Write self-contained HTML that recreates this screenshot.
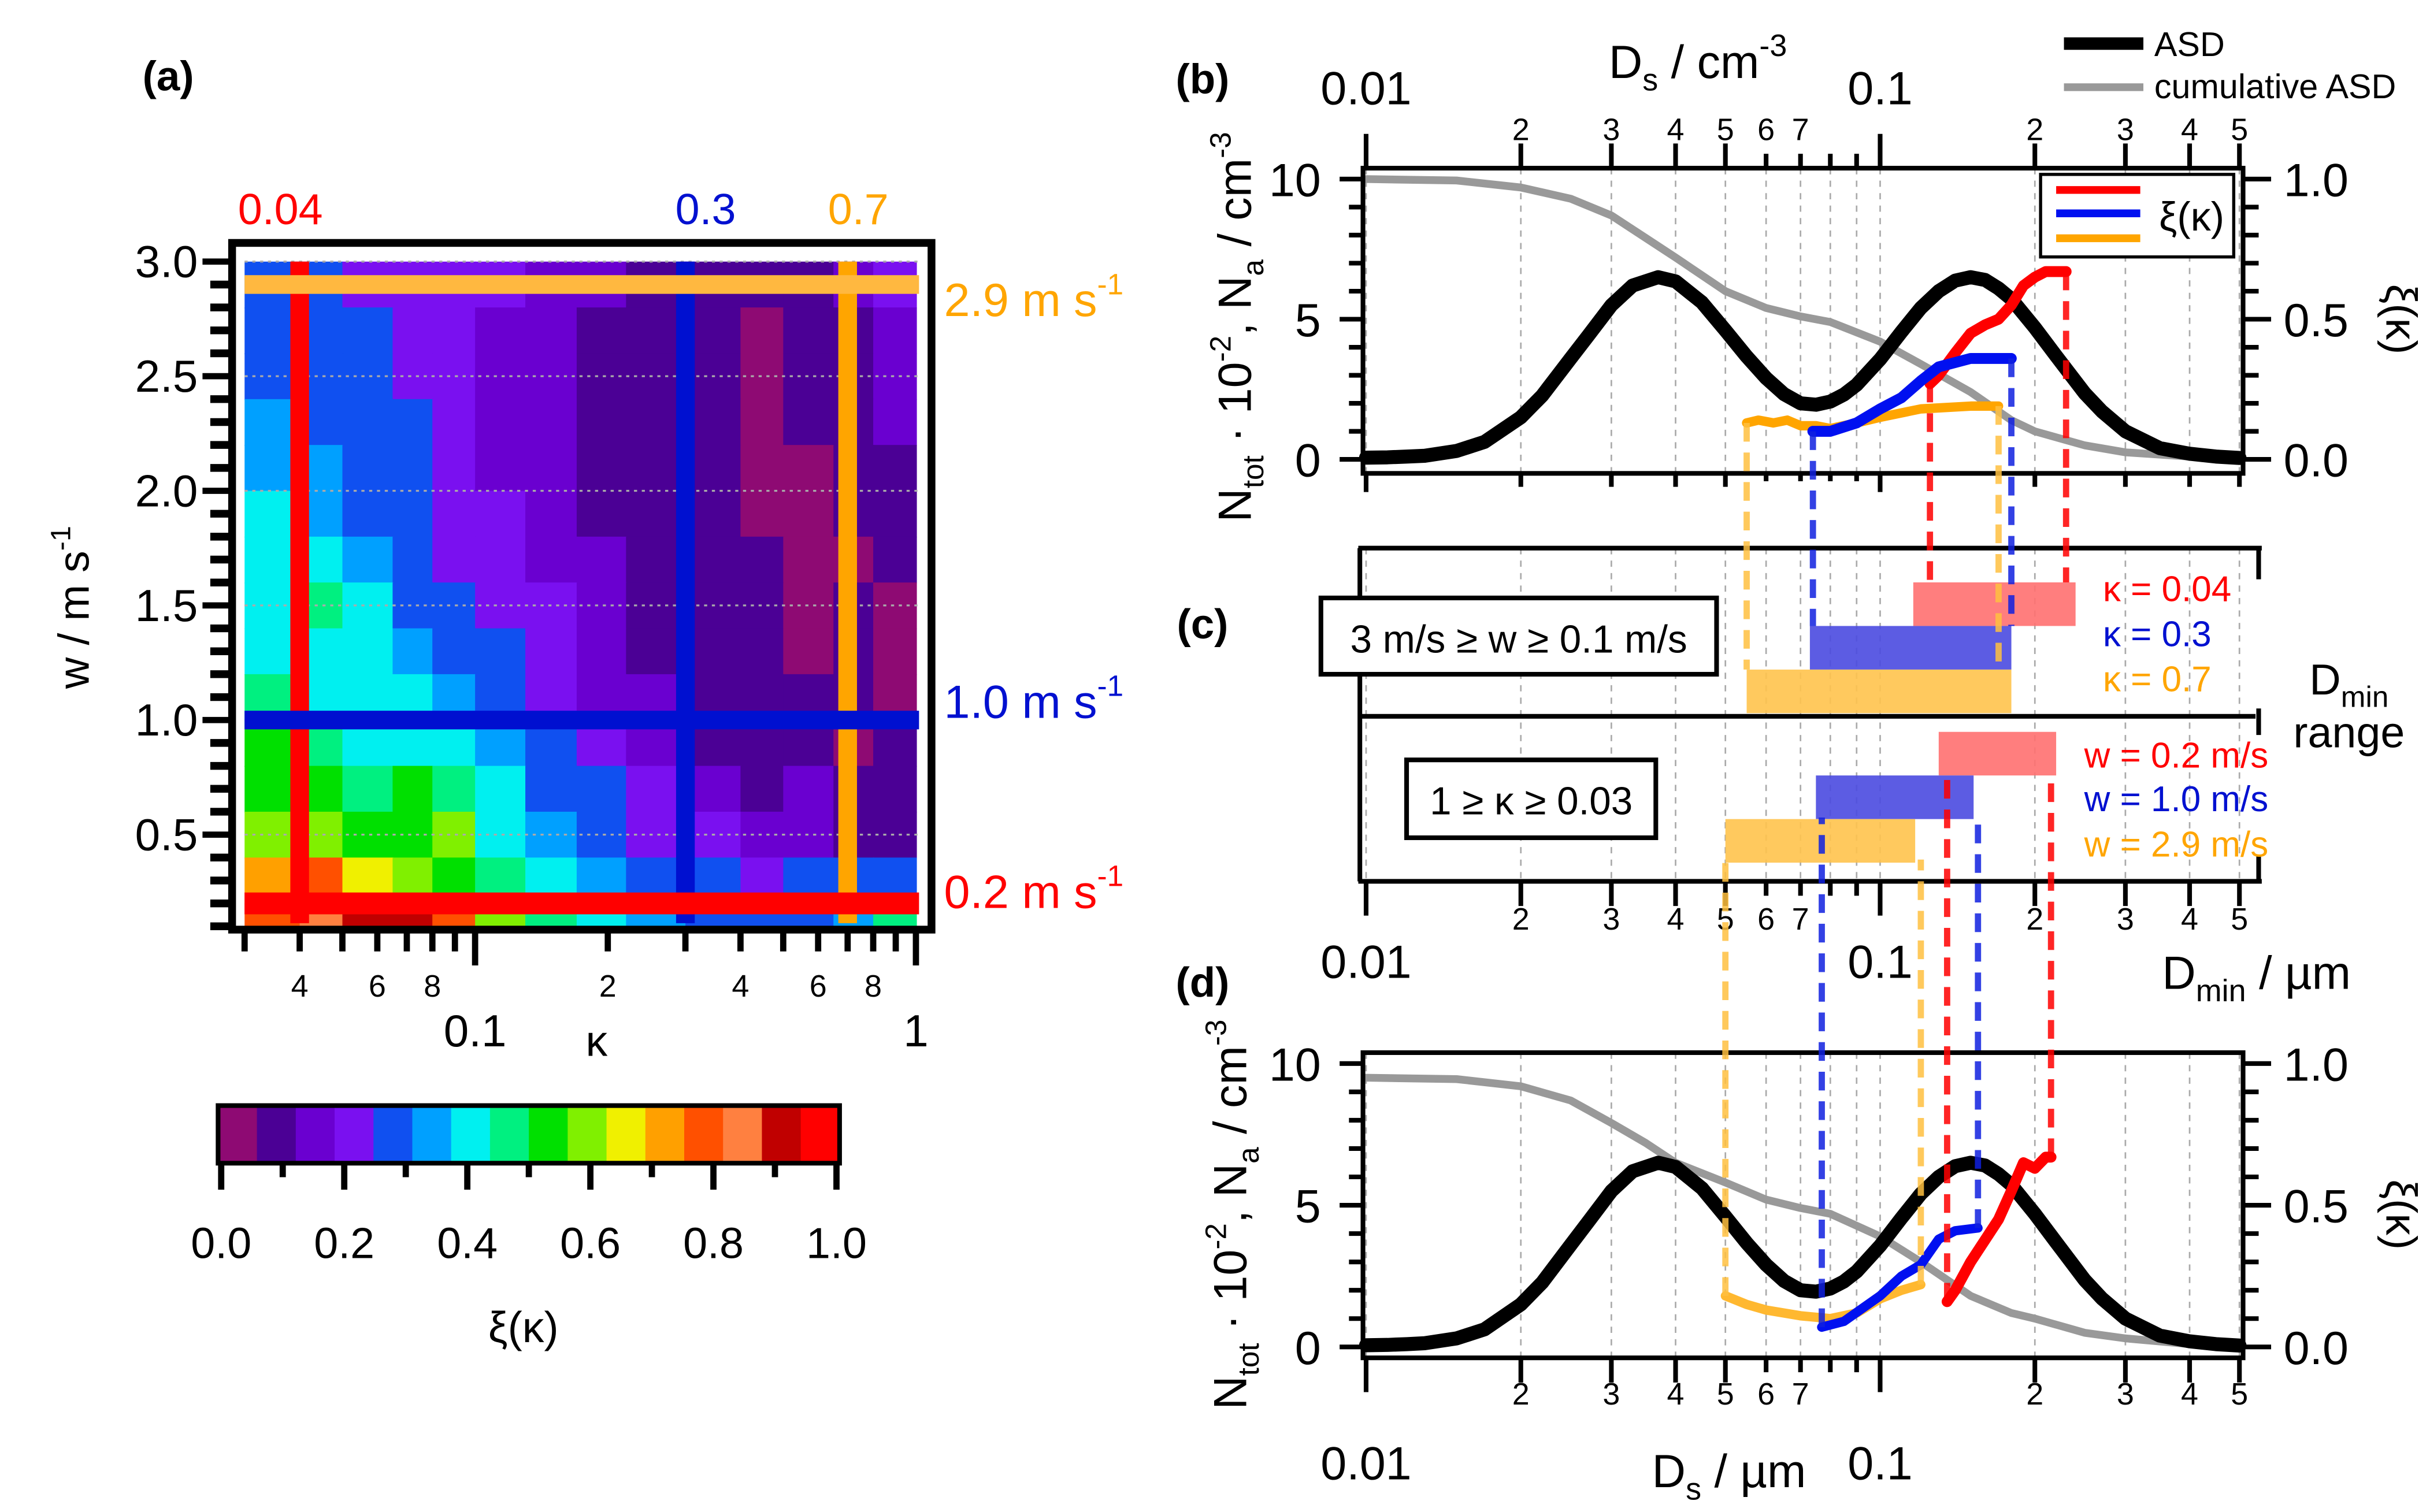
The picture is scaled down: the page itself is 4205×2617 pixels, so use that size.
<!DOCTYPE html>
<html><head><meta charset="utf-8"><style>
html,body{margin:0;padding:0;background:#fff;}
svg{display:block;font-family:"Liberation Sans",sans-serif;}
</style></head><body>
<svg id="fig" width="4205" height="2617" viewBox="0 0 1560 971" preserveAspectRatio="none" xmlns="http://www.w3.org/2000/svg">
<rect x="0" y="0" width="1560" height="971" fill="#fff"/>
</svg>
<script>
// ---- Panel (a) data ----
const kappaEdges=[0.03,0.04,0.05,0.065,0.08,0.1,0.13,0.17,0.22,0.3,0.4,0.5,0.65,0.8,1.0];
const wEdges=[3.0,2.8,2.6,2.4,2.2,2.0,1.8,1.6,1.4,1.2,1.0,0.8,0.6,0.4,0.2,0.1];
const xiGrid=[
[.3,.3,.22,.22,.2,.2,.15,.15,.12,.1,.1,.08,.15,.2],
[.3,.3,.25,.22,.2,.18,.15,.12,.1,.1,.05,.08,.12,.15],
[.3,.3,.28,.22,.2,.18,.15,.12,.1,.1,.02,.08,.1,.15],
[.32,.3,.28,.25,.2,.18,.15,.12,.1,.08,.02,.1,.1,.15],
[.35,.32,.3,.25,.22,.18,.15,.12,.1,.08,.05,.02,.08,.12],
[.38,.35,.3,.25,.22,.2,.18,.12,.1,.08,.05,.02,.08,.1],
[.4,.38,.32,.28,.22,.2,.18,.15,.1,.08,.08,.05,.02,.08],
[.42,.45,.38,.3,.25,.22,.2,.15,.12,.08,.1,.02,.08,.05],
[.42,.42,.4,.35,.3,.25,.2,.15,.12,.1,.08,.05,.08,.02],
[.45,.42,.42,.38,.32,.28,.2,.18,.15,.1,.1,.1,.08,.05],
[.5,.45,.42,.42,.4,.32,.25,.2,.15,.12,.12,.08,.05,.1],
[.55,.5,.45,.5,.45,.38,.3,.25,.2,.15,.12,.15,.1,.1],
[.6,.58,.5,.5,.6,.42,.35,.3,.22,.2,.18,.15,.12,.1],
[.7,.75,.65,.6,.5,.45,.4,.35,.3,.25,.22,.25,.3,.3],
[.8,.85,.9,.9,.75,.6,.45,.4,.35,.3,.25,.3,.35,.45]];
const cmap=["#8e0a73","#4b0095","#6a00d0","#7a10f0","#1050f0","#00a0ff","#00f0f0","#00f080","#00e000","#80f000","#f0f000","#ffa000","#ff5000","#ff8040","#c00000","#ff0000"];
const wTicks=[0.5,1.0,1.5,2.0,2.5,3.0];
const kTicksMajor=[0.1,1];
const kTicksMinor=[0.03,0.04,0.05,0.06,0.07,0.08,0.09,0.2,0.3,0.4,0.5,0.6,0.7,0.8,0.9];
const kMinorLabels=[0.04,0.06,0.08,0.2,0.4,0.6,0.8];
const selKappa=[0.04,0.3,0.7];
const selW=[2.9,1.0,0.2];
// ---- Panels (b)-(d) data ----
const asdD=[0.01,0.011,0.012,0.013,0.015,0.017,0.02,0.022,0.025,0.027,0.03,0.033,0.037,0.04,0.045,0.05,0.055,0.06,0.065,0.07,0.075,0.08,0.085,0.09,0.1,0.11,0.12,0.13,0.14,0.15,0.16,0.17,0.18,0.2,0.22,0.25,0.27,0.3,0.35,0.4,0.45,0.5];
const asdN=[0.06,0.07,0.1,0.13,0.3,0.62,1.5,2.27,3.6,4.4,5.5,6.2,6.5,6.35,5.6,4.6,3.67,2.9,2.33,2.0,1.95,2.06,2.31,2.66,3.57,4.55,5.4,6.0,6.38,6.5,6.4,6.1,5.72,4.7,3.69,2.36,1.71,1.0,0.4,0.2,0.1,0.05];
const cumD=[0.01,0.015,0.02,0.025,0.03,0.035,0.04,0.05,0.06,0.07,0.08,0.1,0.12,0.15,0.18,0.2,0.25,0.3,0.4,0.5];
const cumB=[1.0,.995,.97,.93,.87,.79,.72,.6,.54,.51,.49,.42,.34,.24,.14,.1,.05,.025,.01,.005];
const cumDd=[0.01,0.015,0.02,0.025,0.03,0.035,0.04,0.05,0.06,0.07,0.08,0.1,0.12,0.15,0.18,0.2,0.25,0.3,0.4,0.5];
const cumDv=[.95,.945,.92,.87,.79,.72,.65,.58,.52,.49,.47,.39,.30,.18,.12,.1,.05,.03,.01,0];
const xiBRedD=[0.125,0.13,0.14,0.15,0.16,0.17,0.18,0.19,0.2,0.21,0.23];
const xiBRed=[.27,.3,.38,.45,.48,.5,.55,.62,.65,.67,.67];
const xiBBlueD=[0.074,0.08,0.09,0.1,0.11,0.12,0.13,0.15,0.17,0.18];
const xiBBlue=[.1,.1,.13,.18,.22,.28,.33,.36,.36,.36];
const xiBOrgD=[0.055,0.058,0.062,0.066,0.07,0.075,0.08,0.09,0.1,0.12,0.15,0.17];
const xiBOrg=[.13,.14,.13,.14,.12,.12,.11,.13,.15,.18,.19,.19];
const xiDOrgD=[0.05,0.055,0.06,0.07,0.08,0.09,0.1,0.11,0.12];
const xiDOrg=[.18,.15,.13,.11,.1,.12,.17,.2,.22];
const xiDBlueD=[0.077,0.085,0.1,0.11,0.12,0.13,0.14,0.155];
const xiDBlue=[.07,.09,.18,.25,.29,.38,.41,.42];
const xiDRedD=[0.135,0.14,0.15,0.17,0.18,0.19,0.2,0.21,0.215];
const xiDRed=[.16,.2,.3,.45,.55,.65,.63,.67,.67];
const barsUpperLo=[0.116,0.073,0.055];
const barsUpperHi=[0.24,0.18,0.18];
const barsLowerLo=[0.13,0.075,0.05];
const barsLowerHi=[0.22,0.152,0.117];
const yTicksLeft=[0,5,10];
const yTicksRight=[0.0,0.5,1.0];
const dLabels=[2,3,4,5,6,7,20,30,40,50];

const NS="http://www.w3.org/2000/svg";
const svg=document.getElementById('fig');
function el(tag,attrs,parent){const e=document.createElementNS(NS,tag);for(const k in attrs)e.setAttribute(k,attrs[k]);(parent||svg).appendChild(e);return e;}
function txt(s,x,y,size,fill,anchor,extra){const t=el('text',Object.assign({x:x,y:y,'font-size':size,fill:fill||'#000','text-anchor':anchor||'middle'},extra||{}));t.textContent=s;return t;}
const RED="#ff0000",BLUE="#0010d0",ORG="#ffa500";

const kx=k=>305+283*Math.log10(k/0.1);
const wy=w=>168+(3-w)*147.2;
const dx=D=>877+330*Math.log10(D/0.01);
const by=v=>295-18*v;
const dy=v=>865-18.2*v;

// ---- Panel (a) ----
const ga=el('g',{});


for(let r=0;r<xiGrid.length;r++){for(let c=0;c<xiGrid[r].length;c++){
  const v=xiGrid[r][c];const bin=Math.min(15,Math.floor(v*16));
  const x0=kx(kappaEdges[c]),x1=kx(kappaEdges[c+1]),y0=wy(wEdges[r]),y1=wy(wEdges[r+1]);
  const cell=el('rect',{x:x0,y:y0,width:x1-x0+0.6,height:y1-y0+0.6,fill:cmap[bin]},ga);
  
  
}}
for(const w of wTicks){const l=el('line',{x1:157,x2:592,y1:wy(w),y2:wy(w),stroke:'#aaa','stroke-dasharray':'2,3','stroke-width':1.2},ga);}
const selColK=[RED,BLUE,ORG];
selKappa.forEach((k,i)=>{const l=el('line',{x1:kx(k),x2:kx(k),y1:wy(3.0),y2:wy(0.1)-2,stroke:selColK[i],'stroke-width':12},ga);});
const selColW=["#ffb840",BLUE,RED];
selW.forEach((w,i)=>{const l=el('line',{x1:157,x2:590,y1:wy(w),y2:wy(w),stroke:selColW[i],'stroke-width':w===0.2?14:12},ga);});
const fa=el('rect',{x:149,y:156,width:449,height:441,fill:'none',stroke:'#000','stroke-width':5},ga);

for(let w=0.1;w<=3.001;w+=0.1){const major=Math.abs(w*2-Math.round(w*2))<1e-6;el('line',{x1:major?130:135,x2:149,y1:wy(w),y2:wy(w),stroke:'#000','stroke-width':major?4:5},ga);}
wTicks.forEach(w=>{const t=txt(w.toFixed(1),127,wy(w)+10,29,'#000','end');});
kTicksMinor.forEach(k=>el('line',{x1:kx(k),x2:kx(k),y1:598,y2:611,stroke:'#000','stroke-width':4},ga));
kTicksMajor.forEach(k=>el('line',{x1:kx(k),x2:kx(k),y1:598,y2:620,stroke:'#000','stroke-width':4},ga));
kMinorLabels.forEach(k=>{const s=String(Math.round((k<0.1?k*100:k*10)));const t=txt(s,kx(k),640,20);});
let t;
t=txt('0.1',kx(0.1),672,29);
t=txt('1',kx(1),672,29);
t=txt('κ',383,678,28);
t=el('text',{x:0,y:0,'font-size':28,'text-anchor':'middle',transform:'translate(57,390) rotate(-90)'});t.innerHTML='w / m s<tspan dy="-12" font-size="18">-1</tspan>';
t=txt('0.04',180,144,28,RED);
t=txt('0.3',453,144,28,BLUE);
t=txt('0.7',551,144,28,ORG);
[['2.9',ORG,203],['1.0',BLUE,461],['0.2',RED,583]].forEach(a=>{const e=el('text',{x:606,y:a[2],'font-size':30,fill:a[1]});e.innerHTML=a[0]+' m s<tspan dy="-14" font-size="19">-1</tspan>';});
t=txt('(a)',108,58,27,'#000','middle',{'font-weight':'bold'});
const cbx0=140,cbx1=539;
cmap.forEach((c,i)=>{const r=el('rect',{x:cbx0+i*(cbx1-cbx0)/16,y:710,width:(cbx1-cbx0)/16+0.5,height:37,fill:c});});
const cbf=el('rect',{x:cbx0,y:710,width:cbx1-cbx0,height:37,fill:'none',stroke:'#000','stroke-width':3});
for(let i=0;i<=10;i++){const x=cbx0+2+i*(cbx1-cbx0-4)/10;el('line',{x1:x,x2:x,y1:748,y2:i%2?756:764,stroke:'#000','stroke-width':4});}
for(let i=0;i<=5;i++){t=txt((i*0.2).toFixed(1),cbx0+2+i*(cbx1-cbx0-4)/5,808,28);}
t=txt('ξ(κ)',336,862,28);

function path(xs,ys,fx,fy,attrs,name){let d='';xs.forEach((x,i)=>{d+=(i?'L':'M')+fx(x).toFixed(1)+','+fy(ys[i]).toFixed(1);});const p=el('path',Object.assign({d:d,fill:'none','stroke-linejoin':'round','stroke-linecap':'round'},attrs));return p;}
function allD(){const all=[];for(let dec of [0.01,0.1])for(let m=1;m<=9;m++){const D=dec*m;if(D<=0.5001)all.push(D);}return all;}
function vgrid(y0,y1){allD().forEach(D=>{const l=el('line',{x1:dx(D),x2:dx(D),y1:y0,y2:y1,stroke:'#aaa','stroke-width':1,'stroke-dasharray':'4,4'});});}
function dticks(y,dir,long){allD().forEach(D=>{const n=Math.round(D*100);const major=(n===1||n===10);const mid=[2,3,4,5,20,30,40,50].includes(n);const len=major?long:(mid?long*0.72:long*0.42);el('line',{x1:dx(D),x2:dx(D),y1:y,y2:y+dir*len,stroke:'#000','stroke-width':3});});}
function dlabels(y,size){dLabels.forEach(v=>{const D=v/100;const s=String(v<10?v:v/10);const e=txt(s,dx(D),y,size);});}

// ---- Panel (b) ----
vgrid(108,304);
path(cumD,cumB,dx,v=>by(v*10),{stroke:'#999','stroke-width':5},'cumulative-asd-b');
path(asdD,asdN,dx,by,{stroke:'#000','stroke-width':9},'asd-curve-b');
path(xiBOrgD,xiBOrg,dx,v=>by(v*10),{stroke:ORG,'stroke-width':6},'xi-kappa-0.7-b');
path(xiBRedD,xiBRed,dx,v=>by(v*10),{stroke:RED,'stroke-width':7},'xi-kappa-0.04-b');
path(xiBBlueD,xiBBlue,dx,v=>by(v*10),{stroke:"#0010f0",'stroke-width':7},'xi-kappa-0.3-b');
const fb=el('rect',{x:875,y:108,width:565,height:196,fill:'none',stroke:'#000','stroke-width':3});
dticks(108,-1,22);
dticks(304,1,12);
for(let v=0;v<=10;v++){el('line',{x1:875,x2:v%5?866:860,y1:by(v),y2:by(v),stroke:'#000','stroke-width':3});el('line',{x1:1440,x2:v%5?1450:1458,y1:by(v),y2:by(v),stroke:'#000','stroke-width':3});}
yTicksLeft.forEach(v=>{t=txt(String(v),848,by(v)+11,30,'#000','end');});
yTicksRight.forEach(v=>{t=txt(v.toFixed(1),1466,by(v*10)+11,30,'#000','start');});
dlabels(90,20);
t=txt('0.01',877,67,30);
t=txt('0.1',1207,67,30);
t=el('text',{x:1090,y:50,'font-size':30,'text-anchor':'middle'});t.innerHTML='D<tspan dy="8" font-size="20">s</tspan><tspan dy="-8"> / cm</tspan><tspan dy="-14" font-size="20">-3</tspan>';
t=txt('(b)',772,60,27,'#000','middle',{'font-weight':'bold'});
el('line',{x1:1325,x2:1376,y1:28,y2:28,stroke:'#000','stroke-width':8});
t=txt('ASD',1383,36,22,'#000','start');
el('line',{x1:1325,x2:1376,y1:56,y2:56,stroke:'#999','stroke-width':5});
t=txt('cumulative ASD',1383,63,22,'#000','start');
const lg=el('rect',{x:1310,y:112,width:124,height:53,fill:'#fff',stroke:'#000','stroke-width':2});
el('line',{x1:1320,x2:1374,y1:122,y2:122,stroke:RED,'stroke-width':5});
el('line',{x1:1320,x2:1374,y1:137,y2:137,stroke:"#0010f0",'stroke-width':5});
el('line',{x1:1320,x2:1374,y1:153,y2:153,stroke:ORG,'stroke-width':5});
t=txt('ξ(κ)',1407,148,26);
function rotText(html,x,y,size,rot,name){const e=el('text',{x:0,y:0,'font-size':size,'text-anchor':'middle',transform:`translate(${x},${y}) rotate(${rot})`});e.innerHTML=html;}
const ylab='N<tspan dy="8" font-size="19">tot</tspan><tspan dy="-8"> · 10</tspan><tspan dy="-13" font-size="19">-2</tspan><tspan dy="13">, N</tspan><tspan dy="8" font-size="19">a</tspan><tspan dy="-8"> / cm</tspan><tspan dy="-13" font-size="19">-3</tspan>';
rotText(ylab,803,210,30,-90,'y-axis-title-b');
rotText('ξ(κ)',1532,205,28,90,'y2-axis-title-b');

// ---- Panel (c) ----
vgrid(352,565);
const bc=["#ff7070","#4a4ae0","#ffc34d"];
barsUpperLo.forEach((lo,i)=>{const r=el('rect',{x:dx(lo),y:374+i*28,width:dx(barsUpperHi[i])-dx(lo),height:28,fill:bc[i],opacity:0.9});});
barsLowerLo.forEach((lo,i)=>{const r=el('rect',{x:dx(lo),y:470+i*28,width:dx(barsLowerHi[i])-dx(lo),height:28,fill:bc[i],opacity:0.9});});
const fc=el('path',{d:'M872,352 H1452 M872,460 H1448 M872,566 H1452 M873,352 V566 M1450,352 V372 M1450,455 V472 M1450,550 V566',stroke:'#000','stroke-width':3,fill:'none'});
dticks(566,1,22);
dlabels(597,20);
t=txt('0.01',877,628,30);
t=txt('0.1',1207,628,30);
t=el('text',{x:1388,y:635,'font-size':30});t.innerHTML='D<tspan dy="8" font-size="20">min</tspan><tspan dy="-8"> / µm</tspan>';
const b1=el('rect',{x:848,y:384,width:254,height:49,fill:'#fff',stroke:'#000','stroke-width':3});
t=txt('3 m/s ≥ w ≥ 0.1 m/s',975,419,25);
const b2=el('rect',{x:903,y:488,width:160,height:50,fill:'#fff',stroke:'#000','stroke-width':3});
t=txt('1 ≥ κ ≥ 0.03',983,523,25);
[['κ = 0.04',RED,386],['κ = 0.3',BLUE,415],['κ = 0.7',ORG,444]].forEach(a=>{t=txt(a[0],1350,a[2],23,a[1],'start');});
[['w = 0.2 m/s',RED,493],['w = 1.0 m/s',BLUE,521],['w = 2.9 m/s',ORG,550]].forEach(a=>{t=txt(a[0],1338,a[2],23,a[1],'start');});
t=el('text',{x:1508,y:446,'font-size':28,'text-anchor':'middle'});t.innerHTML='D<tspan dy="8" font-size="19">min</tspan>';
t=txt('range',1508,480,28);
t=txt('(c)',772,410,27,'#000','middle',{'font-weight':'bold'});

// ---- Panel (d) ----
vgrid(676,872);
path(cumDd,cumDv,dx,v=>dy(v*10),{stroke:'#999','stroke-width':5},'cumulative-asd-d');
path(asdD,asdN,dx,dy,{stroke:'#000','stroke-width':9},'asd-curve-d');
path(xiDOrgD,xiDOrg,dx,v=>dy(v*10),{stroke:"#ffb830",'stroke-width':6},'xi-w-2.9-d');
path(xiDBlueD,xiDBlue,dx,v=>dy(v*10),{stroke:"#0010f0",'stroke-width':6},'xi-w-1.0-d');
path(xiDRedD,xiDRed,dx,v=>dy(v*10),{stroke:RED,'stroke-width':7},'xi-w-0.2-d');
const fd=el('rect',{x:875,y:676,width:565,height:196,fill:'none',stroke:'#000','stroke-width':3});
dticks(872,1,22);
for(let v=0;v<=10;v++){el('line',{x1:875,x2:v%5?866:860,y1:dy(v),y2:dy(v),stroke:'#000','stroke-width':3});el('line',{x1:1440,x2:v%5?1450:1458,y1:dy(v),y2:dy(v),stroke:'#000','stroke-width':3});}
yTicksLeft.forEach(v=>{t=txt(String(v),848,dy(v)+11,30,'#000','end');});
yTicksRight.forEach(v=>{t=txt(v.toFixed(1),1466,dy(v*10)+11,30,'#000','start');});
dlabels(902,20);
t=txt('0.01',877,950,30);
t=txt('0.1',1207,950,30);
t=el('text',{x:1110,y:955,'font-size':30,'text-anchor':'middle'});t.innerHTML='D<tspan dy="8" font-size="20">s</tspan><tspan dy="-8"> / µm</tspan>';
rotText(ylab,800,780,30,-90,'y-axis-title-d');
rotText('ξ(κ)',1532,780,28,90,'y2-axis-title-d');
t=txt('(d)',772,640,27,'#000','middle',{'font-weight':'bold'});

// ---- dashed connectors ----
function dash(D,y0,y1,col,name){const l=el('line',{x1:dx(D),x2:dx(D),y1:y0,y2:y1,stroke:col,'stroke-width':4,'stroke-dasharray':'12,7',opacity:0.85});}
const dcol=[RED,"#1020e0","#ffc040"];
dash(xiBRedD[0],by(xiBRed[0]*10),374,dcol[0],'connector-b-red-lo');
dash(xiBRedD[xiBRedD.length-1],by(xiBRed[xiBRed.length-1]*10),374,dcol[0],'connector-b-red-hi');
dash(xiBBlueD[0],by(xiBBlue[0]*10),402,dcol[1],'connector-b-blue-lo');
dash(xiBBlueD[xiBBlueD.length-1],by(xiBBlue[xiBBlue.length-1]*10),402,dcol[1],'connector-b-blue-hi');
dash(xiBOrgD[0],by(xiBOrg[0]*10),430,dcol[2],'connector-b-orange-lo');
dash(xiBOrgD[xiBOrgD.length-1],by(xiBOrg[xiBOrg.length-1]*10),430,dcol[2],'connector-b-orange-hi');
dash(xiDRedD[0],dy(xiDRed[0]*10),497,dcol[0],'connector-d-red-lo');
dash(xiDRedD[xiDRedD.length-1],dy(xiDRed[xiDRed.length-1]*10),497,dcol[0],'connector-d-red-hi');
dash(xiDBlueD[0],dy(xiDBlue[0]*10),525,dcol[1],'connector-d-blue-lo');
dash(xiDBlueD[xiDBlueD.length-1],dy(xiDBlue[xiDBlue.length-1]*10),525,dcol[1],'connector-d-blue-hi');
dash(xiDOrgD[0],dy(xiDOrg[0]*10),552,dcol[2],'connector-d-orange-lo');
dash(xiDOrgD[xiDOrgD.length-1],dy(xiDOrg[xiDOrg.length-1]*10),552,dcol[2],'connector-d-orange-hi');
</script>
</body></html>
